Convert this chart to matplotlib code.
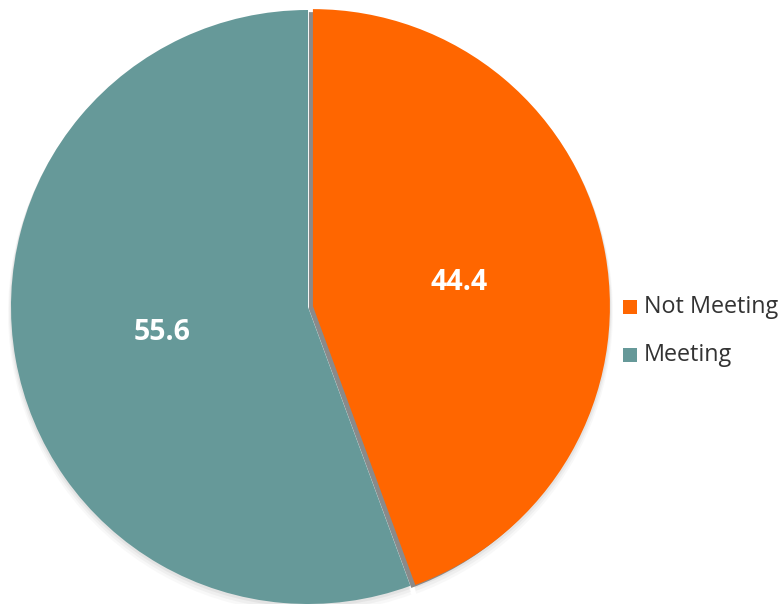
import matplotlib.pyplot as plt
from matplotlib.patches import Rectangle

labels = ["Not Meeting", "Meeting"]
values = [44.4, 55.6]
colors = ["#FF6600", "#669999"]

plt.rcParams["font.family"] = ["Open Sans", "DejaVu Sans"]

fig = plt.figure(figsize=(7.83, 6.04), dpi=100)
ax = fig.add_axes([0, 0, 1, 1])

center = (308, 297)
radius = 297
explode = [5, 0]

# soft grey shadow under the whole pie
for i, (dy, a) in enumerate([(-6, 0.05), (-4, 0.07), (-2, 0.1)]):
    ax.pie(values, startangle=90, counterclock=False, center=(center[0], center[1] + dy),
           radius=radius + 3 - i, colors=["#808080", "#808080"], explode=explode,
           wedgeprops=dict(alpha=a, linewidth=0), frame=True)

# shadow of the exploded slice, falls into the gap
ax.pie(values, startangle=90, counterclock=False,
       center=(center[0] - 4, center[1] - 3), radius=radius,
       colors=["#8a8a8a", "none"], explode=explode,
       wedgeprops=dict(linewidth=0), frame=True)

wedges, _ = ax.pie(values, startangle=90, counterclock=False, center=center,
                   radius=radius, colors=colors, explode=explode,
                   wedgeprops=dict(linewidth=0), frame=True)
ax.set_xlim(0, 783)
ax.set_ylim(0, 604)
ax.set_aspect("equal")
ax.axis("off")

ax.text(459, 604 - 283, f"{values[0]:.1f}", color="white", fontsize=20.5,
        fontweight="bold", ha="center", va="center")
ax.text(162, 604 - 333, f"{values[1]:.1f}", color="white", fontsize=20.5,
        fontweight="bold", ha="center", va="center")

# legend
for i, (lab, c) in enumerate(zip(labels, colors)):
    y = 604 - 307 - i * 48
    ax.add_patch(Rectangle((623, y - 7), 14, 14, color=c, linewidth=0))
    ax.text(644, y, lab, color="#333333", fontsize=16.8, ha="left", va="center")

fig.savefig("out.png", dpi=100)
